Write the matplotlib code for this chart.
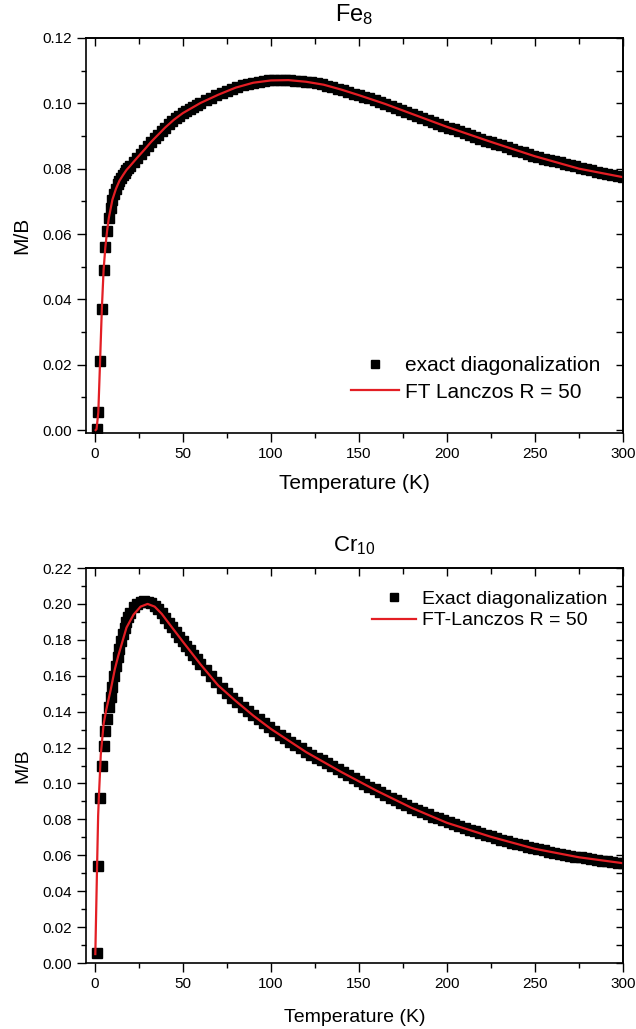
import numpy as np
import matplotlib
matplotlib.use('Agg')
import matplotlib.pyplot as plt
from matplotlib.ticker import MultipleLocator

plt.rc('font', family='Liberation Sans', size=11)
plt.rc('mathtext', default='regular')
plt.rc('axes', linewidth=1.2)

# temperature grid of the exact diagonalization points (K)
T_ed = np.concatenate([np.arange(1, 21), np.arange(22, 61, 2), np.arange(63, 301, 3)])

# Fe8: M/B, exact diagonalization
fe8_ed = [0.0003, 0.0054, 0.021, 0.037, 0.049, 0.056, 0.061, 0.065, 0.068, 0.0705,
          0.0722, 0.0738, 0.0752, 0.0763, 0.0772, 0.0780, 0.0788, 0.0796, 0.0802, 0.0808,
          0.0821, 0.0833, 0.0845, 0.0857, 0.0870, 0.0882, 0.0893, 0.0904, 0.0915, 0.0926,
          0.0936, 0.0945, 0.0954, 0.0962, 0.0970, 0.0977, 0.0983, 0.0989, 0.0995, 0.1001,
          0.1009, 0.1017, 0.1024, 0.1031, 0.1038, 0.1044, 0.1050, 0.1055, 0.1059, 0.1063,
          0.1066, 0.1068, 0.1070, 0.1071, 0.1071, 0.1071, 0.1070, 0.1069, 0.1068, 0.1066,
          0.1064, 0.1061, 0.1058, 0.1054, 0.1050, 0.1045, 0.1040, 0.1035, 0.1030, 0.1025,
          0.1020, 0.1015, 0.1010, 0.1004, 0.0998, 0.0992, 0.0986, 0.0980, 0.0974, 0.0968,
          0.0962, 0.0956, 0.0950, 0.0944, 0.0938, 0.0932, 0.0926, 0.0920, 0.0914, 0.0908,
          0.0903, 0.0897, 0.0892, 0.0886, 0.0881, 0.0876, 0.0871, 0.0866, 0.0860, 0.0855,
          0.0850, 0.0845, 0.0840, 0.0835, 0.0831, 0.0827, 0.0823, 0.0819, 0.0815, 0.0811,
          0.0807, 0.0803, 0.0799, 0.0795, 0.0791, 0.0787, 0.0784, 0.0780, 0.0777, 0.0774]

# Fe8: FT Lanczos R = 50 (on top of the exact curve)
fe8_T_lz = [0.5, 1, 2, 3, 4, 5, 6, 7, 8, 10, 12, 14, 16, 18, 20, 24, 28, 32, 36, 40,
            45, 50, 60, 70, 80, 90, 100, 110, 120, 130, 140, 150, 165, 180, 200, 225, 250, 275, 300]
fe8_lz = [0.0, 0.0003, 0.0054, 0.021, 0.037, 0.049, 0.056, 0.061, 0.065, 0.0705,
          0.0738, 0.0763, 0.0780, 0.0796, 0.0808, 0.0833, 0.0857, 0.0882, 0.0904, 0.0926,
          0.0950, 0.0970, 0.1001, 0.1026, 0.1048, 0.1063, 0.1070, 0.1071, 0.1066, 0.1057,
          0.1042, 0.1025, 0.0998, 0.0968, 0.0928, 0.0882, 0.0838, 0.0800, 0.0774]

# Cr10: M/B, exact diagonalization
cr10_ed = [0.0054, 0.054, 0.092, 0.110, 0.121, 0.129, 0.136, 0.1425, 0.148, 0.154,
           0.160, 0.1655, 0.1705, 0.175, 0.1795, 0.1835, 0.1868, 0.1898, 0.1925, 0.1948,
           0.1982, 0.2000, 0.2010, 0.2014, 0.2012, 0.2005, 0.1990, 0.1970, 0.1947, 0.1922,
           0.1896, 0.1870, 0.1844, 0.1818, 0.1792, 0.1766, 0.1741, 0.1716, 0.1691, 0.1666,
           0.1630, 0.1597, 0.1565, 0.1534, 0.1505, 0.1478, 0.1452, 0.1427, 0.1403, 0.1380,
           0.1358, 0.1336, 0.1315, 0.1293, 0.1272, 0.1251, 0.1232, 0.1213, 0.1195, 0.1178,
           0.1161, 0.1144, 0.1128, 0.1112, 0.1096, 0.1080, 0.1064, 0.1048, 0.1032, 0.1015,
           0.0999, 0.0983, 0.0967, 0.0951, 0.0936, 0.0921, 0.0907, 0.0893, 0.0879, 0.0866,
           0.0853, 0.0840, 0.0828, 0.0816, 0.0805, 0.0794, 0.0783, 0.0773, 0.0763, 0.0753,
           0.0743, 0.0734, 0.0724, 0.0715, 0.0706, 0.0697, 0.0688, 0.0679, 0.0671, 0.0663,
           0.0655, 0.0648, 0.0641, 0.0634, 0.0627, 0.0621, 0.0615, 0.0609, 0.0603, 0.0598,
           0.0593, 0.0588, 0.0583, 0.0579, 0.0575, 0.0571, 0.0567, 0.0563, 0.0559, 0.0556]

# Cr10: FT-Lanczos R = 50
cr10_T_lz = [0.3, 1.3, 1.9, 2.3, 3.4, 5, 6.5, 9, 11.4, 13.3, 14.2, 18, 22, 26, 30, 34, 38,
             42, 50, 60, 70, 80, 90, 100, 120, 140, 160, 180, 200, 225, 250, 275, 300]
cr10_lz = [0.005, 0.054, 0.082, 0.092, 0.116, 0.133, 0.141, 0.152, 0.1637, 0.171, 0.174,
           0.1868, 0.194, 0.1985, 0.2000, 0.1985, 0.1945, 0.1893, 0.1790, 0.1664, 0.1547,
           0.1460, 0.1378, 0.1304, 0.1175, 0.1064, 0.0960, 0.0864, 0.0781, 0.0703, 0.0636,
           0.0589, 0.0556]

ed_color = 'black'
lz_color = '#e31e24'

fig = plt.figure(figsize=(6.36, 10.29), dpi=100)
ax1 = fig.add_axes([0.1352, 0.5795, 0.8443, 0.3836])
ax2 = fig.add_axes([0.1352, 0.0641, 0.8443, 0.3839])


def style_axes(ax, ymaj, ymin_tick):
    ax.xaxis.set_major_locator(MultipleLocator(50))
    ax.xaxis.set_minor_locator(MultipleLocator(25))
    ax.yaxis.set_major_locator(MultipleLocator(ymaj))
    ax.yaxis.set_minor_locator(MultipleLocator(ymin_tick))
    ax.yaxis.set_major_formatter(plt.FormatStrFormatter('%.2f'))
    ax.tick_params(which='major', direction='out', length=6.5, width=1, pad=3.5, labelsize=11)
    ax.tick_params(which='minor', direction='out', length=3.5, width=1)
    # mirrored ticks pointing into the frame on top and right
    top = ax.secondary_xaxis('top')
    top.xaxis.set_major_locator(MultipleLocator(50))
    top.xaxis.set_minor_locator(MultipleLocator(25))
    top.tick_params(which='major', direction='in', length=6, width=1, labeltop=False)
    top.tick_params(which='minor', direction='in', length=4, width=1)
    right = ax.secondary_yaxis('right')
    right.yaxis.set_major_locator(MultipleLocator(ymaj))
    right.yaxis.set_minor_locator(MultipleLocator(ymin_tick))
    right.tick_params(which='major', direction='in', length=5, width=1, labelright=False)
    right.tick_params(which='minor', direction='in', length=5, width=1)
    for sx in (top, right):
        for sp in sx.spines.values():
            sp.set_linewidth(1.2)


# Fe8
ax1.plot(T_ed, fe8_ed, 's', color=ed_color, ms=7, label='exact diagonalization')
ax1.plot(fe8_T_lz, fe8_lz, '-', color=lz_color, lw=1.6, label='FT Lanczos R = 50')
ax1.set_xlim(-5, 300)
ax1.set_ylim(-0.0008, 0.12)
style_axes(ax1, 0.02, 0.01)
ax1.set_xlabel('Temperature (K)', fontsize=15, labelpad=10)
ax1.set_ylabel('M/B', fontsize=15, labelpad=8)
ax1.set_title('Fe$_8$', fontsize=17, pad=12)
ax1.legend(loc='center left', bbox_to_anchor=(0.4935, 0.136), frameon=False, fontsize=15,
           numpoints=1, handlelength=2.3, handletextpad=0.3, labelspacing=0.35, borderpad=0,
           borderaxespad=0, markerscale=0.8)

# Cr10
ax2.plot(T_ed, cr10_ed, 's', color=ed_color, ms=7, label='Exact diagonalization')
ax2.plot(cr10_T_lz, cr10_lz, '-', color=lz_color, lw=1.6, label='FT-Lanczos R = 50')
ax2.set_xlim(-5, 300)
ax2.set_ylim(0, 0.22)
style_axes(ax2, 0.02, 0.01)
ax2.set_xlabel('Temperature (K)', fontsize=14, labelpad=13)
ax2.set_ylabel('M/B', fontsize=14, labelpad=8)
ax2.set_title('Cr$_{10}$', fontsize=16, pad=12)
ax2.legend(loc='center left', bbox_to_anchor=(0.532, 0.894), frameon=False, fontsize=14,
           numpoints=1, handlelength=2.3, handletextpad=0.3, labelspacing=0.2, borderpad=0,
           borderaxespad=0, markerscale=0.8)

fig.savefig('out.png', dpi=100)
